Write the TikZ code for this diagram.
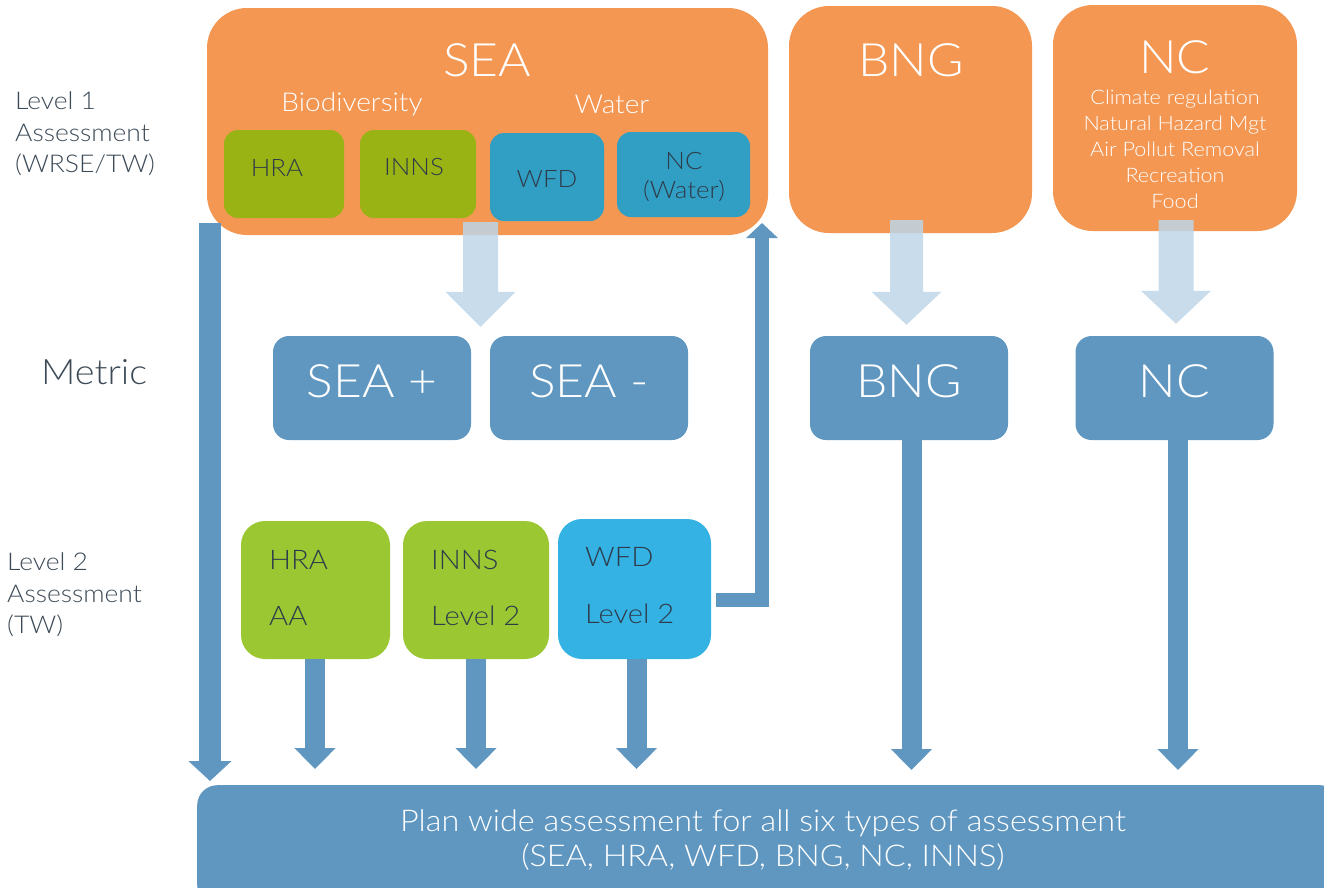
\documentclass[tikz,border=0pt]{standalone}
\usepackage{fontspec}
\setmainfont{Lato}[UprightFont={* Light}, FakeStretch=1.08]
\usetikzlibrary{arrows.meta,calc}

\definecolor{sorange}{RGB}{243,151,83}
\definecolor{olive}{RGB}{154,179,20}
\definecolor{lgreen}{RGB}{155,199,51}
\definecolor{wblue}{RGB}{49,159,196}
\definecolor{sky}{RGB}{52,178,228}
\definecolor{steel}{RGB}{96,151,193}
\definecolor{pale}{RGB}{190,214,232}
\definecolor{ink}{RGB}{46,59,74}
\definecolor{side}{RGB}{60,74,87}

\newcommand{\fs}[1]{\fontsize{#1}{1.2\dimexpr#1pt\relax}\selectfont}

% downward block arrow drawn as one polygon: from, to, half shaft, half head, head length
\newcommand{\paledown}[5]{%
  \fill[pale, opacity=0.85] let \p1=(#1), \p2=(#2) in
    (\x1-#3,\y1) -- (\x1+#3,\y1) -- (\x1+#3,\y2+#5) -- (\x1+#4,\y2+#5)
    -- (\x1,\y2) -- (\x1-#4,\y2+#5) -- (\x1-#3,\y2+#5) -- cycle;}

\tikzset{
  bigbox/.style={fill=sorange, rounded corners=40pt, minimum width=#1, inner sep=0pt},
  inbox/.style={rounded corners=14pt, inner sep=0pt},
  metricbox/.style={fill=steel, rounded corners=16pt, minimum width=198pt, minimum height=104pt, inner sep=0pt},
  lvbox/.style={rounded corners=24pt, inner sep=0pt},
  title/.style={text=white, font=\fs{46}, inner sep=0pt},
  sub/.style={text=white, font=\fs{26}, inner sep=0pt},
  intext/.style={text=ink, font=\fs{24}, inner sep=0pt, align=center},
  mtext/.style={text=white, font=\fs{46}, inner sep=0pt},
  lvtext/.style={text=ink, font=\fs{27}, inner sep=0pt, anchor=west},
  sidetext/.style={text=side, font=\fs{24.5}, inner sep=0pt, anchor=west, align=left},
  solid arrow/.style={draw=steel, line width=20pt, line cap=butt,
    -{Triangle[width=40pt,length=21pt]}},
}

\begin{document}
\begin{tikzpicture}[x=1pt,y=-1pt]
\useasboundingbox (0,0) rectangle (1324,887);

% ---- level 1 boxes
\node[bigbox=561pt, minimum height=227pt] (sea) at (487.5,121.5) {};
\node[bigbox=243pt, minimum height=227pt] (bng) at (910.5,119.5) {};
\node[bigbox=244pt, minimum height=226pt] (nc) at (1175,118) {};

\node[title] (seat) at (487,60) {SEA};
\node[sub] (biot) at (352,104) {Biodiversity};
\node[sub] (watt) at (612,104) {Water};
\node[title] (bngt) at (911,60) {BNG};
\node[title] (nct) at (1175,57) {NC};
\node[text=white, font=\fs{20}, inner sep=0pt, align=center, anchor=north] (nclist) at (1175,90)
  {Climate regulation\\[2pt]Natural Hazard Mgt\\[2pt]Air Pollut Removal\\[2pt]Recreation\\[2pt]Food};

\node[inbox, fill=olive, minimum width=120pt, minimum height=88pt] (hra1) at (284,174) {};
\node[inbox, fill=olive, minimum width=116pt, minimum height=88pt] (inns1) at (418,174) {};
\node[inbox, fill=wblue, minimum width=114pt, minimum height=88pt] (wfd1) at (547,177) {};
\node[inbox, fill=wblue, minimum width=133pt, minimum height=85pt] (ncw1) at (683.5,174.5) {};
\node[intext] (hra1t) at (277,168) {HRA};
\node[intext] (inns1t) at (414,167) {INNS};
\node[intext] (wfd1t) at (547,179) {WFD};
\node[intext] (ncw1t) at (684,177) {NC\\[1pt](Water)};

% ---- metric boxes
\node[metricbox] (seap) at (372,388) {};
\node[metricbox] (seam) at (589,388) {};
\node[metricbox] (bngm) at (909,388) {};
\node[metricbox] (ncm) at (1174.5,388) {};
\node[mtext] (seapt) at (372,381) {SEA +};
\node[mtext] (seamt) at (589,381) {SEA -};
\node[mtext] (bngmt) at (909,381) {BNG};
\node[mtext] (ncmt) at (1174.5,381) {NC};

% ---- level 2 boxes
\node[lvbox, fill=lgreen, minimum width=149pt, minimum height=138pt] (hra2) at (315.5,590) {};
\node[lvbox, fill=lgreen, minimum width=146pt, minimum height=138pt] (inns2) at (476,590) {};
\node[lvbox, fill=sky, minimum width=153pt, minimum height=140pt] (wfd2) at (634.5,589) {};
\node[lvtext] (hra2a) at (269,560) {HRA};
\node[lvtext] (hra2b) at (269,616) {AA};
\node[lvtext] (inns2a) at (431,560) {INNS};
\node[lvtext] (inns2b) at (431,616) {Level 2};
\node[lvtext] (wfd2a) at (585,557) {WFD};
\node[lvtext] (wfd2b) at (585,614) {Level 2};

% ---- plan wide box
\node[fill=steel, rounded corners=20pt, minimum width=1143pt, minimum height=120pt, inner sep=0pt,
      anchor=north west] (plan) at (197,785) {};
\node[text=white, font=\fs{30}, inner sep=0pt, align=center] (plant) at (763,840)
  {Plan wide assessment for all six types of assessment\\[-1pt](SEA, HRA, WFD, BNG, NC, INNS)};

% ---- side labels
\node[sidetext] (lv1) at (15,134) {Level 1\\[2pt]Assessment\\[2pt](WRSE/TW)};
\node[text=side, font=\fs{35}, inner sep=0pt, anchor=west] (metric) at (41,372) {Metric};
\node[sidetext] (lv2) at (7,595) {Level 2\\[2pt]Assessment\\[2pt](TW)};

% ---- pale arrows from level 1 to metrics
\coordinate (sa0) at (480.5,222); \coordinate (sa1) at ($(seap.north east)!0.5!(seam.north west)+(0,-9)$);
\paledown{sa0}{sa1}{17.5}{35}{35}
\coordinate (ba0) at (906.5,220); \coordinate (ba1) at ($(bngm.north)+(-2.5,-11)$);
\paledown{ba0}{ba1}{16.5}{35}{33}
\coordinate (na0) at (1176,220); \coordinate (na1) at ($(ncm.north)+(1.5,-12)$);
\paledown{na0}{na1}{17.5}{35}{33}

% ---- solid arrows into the plan wide box
\coordinate (la0) at (210,223); \coordinate (la1) at (210,781);
\draw[draw=steel, line width=22pt, -{Triangle[width=42pt,length=20pt]}] (la0) -- (la1);
\draw[solid arrow] (hra2.south -| 315,0) -- (315,769);
\draw[solid arrow] (inns2.south -| 476,0) -- (476,769);
\draw[solid arrow] (wfd2.south -| 636.5,0) -- (636.5,769);
\draw[solid arrow] (bngm.south -| 911.5,0) -- (911.5,770);
\draw[solid arrow] (ncm.south -| 1178,0) -- (1178,770);

% ---- feedback from WFD level 2 to the SEA box
\coordinate (fb0) at ($(wfd2.east)+(5,11)$);
\coordinate (fb1) at (762,223);
\draw[draw=steel, line width=14pt, line join=miter, -{Triangle[width=31pt,length=15pt]}]
  (fb0) -- (fb0 -| fb1) -- (fb1);
\end{tikzpicture}
\end{document}
